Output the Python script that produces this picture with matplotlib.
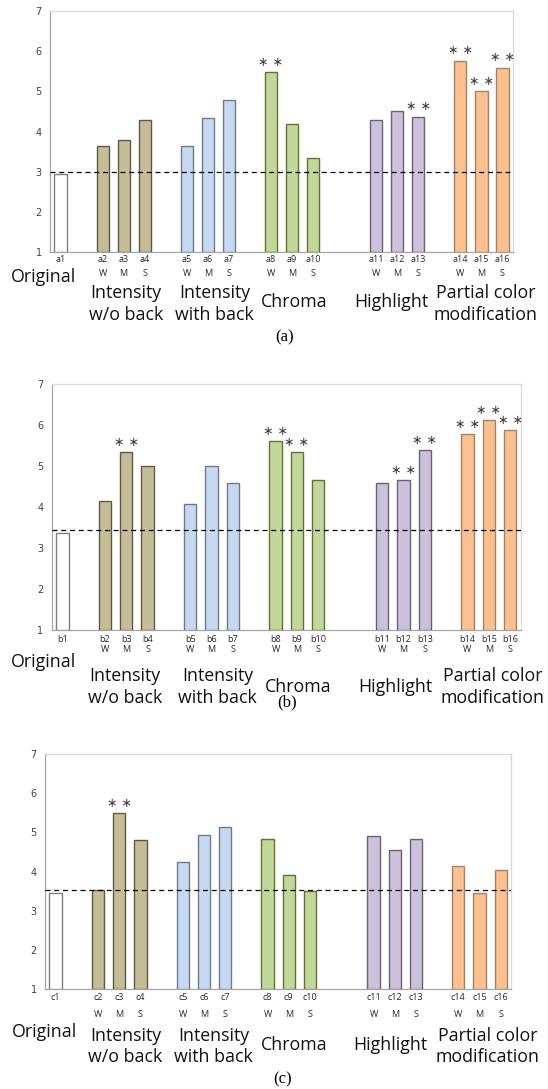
import matplotlib
matplotlib.use("Agg")
import matplotlib.pyplot as plt
from matplotlib.transforms import blended_transform_factory

# ---------------- data ----------------
positions = [0, 2, 3, 4, 6, 7, 8, 10, 11, 12, 15, 16, 17, 19, 20, 21]
strengths = ["", "W", "M", "S", "W", "M", "S", "W", "M", "S", "W", "M", "S", "W", "M", "S"]
groups = ["Original", "Intensity\nw/o back", "Intensity\nwith back", "Chroma", "Highlight",
          "Partial color\nmodification"]
group_of_bar = [0, 1, 1, 1, 2, 2, 2, 3, 3, 3, 4, 4, 4, 5, 5, 5]

values_a = [2.94, 3.64, 3.78, 4.28, 3.65, 4.34, 4.78, 5.48, 4.18, 3.34, 4.28, 4.51, 4.37, 5.76, 5.00, 5.59]
values_b = [3.36, 4.14, 5.33, 5.00, 4.07, 5.00, 4.59, 5.61, 5.33, 4.65, 4.58, 4.65, 5.39, 5.77, 6.11, 5.87]
values_c = [3.46, 3.53, 5.49, 4.80, 4.25, 4.93, 5.13, 4.82, 3.91, 3.50, 4.91, 4.56, 4.82, 4.15, 3.45, 4.05]

sig_a = [8, 13, 14, 15, 16]
sig_b = [3, 8, 9, 12, 13, 14, 15, 16]
sig_c = [3]

ref_a = 2.98
ref_b = 3.44
ref_c = 3.53

yticks = [1, 2, 3, 4, 5, 6, 7]

# ---------------- style ----------------
face = ["#FFFFFF", "#C4BD97", "#C6D9F1", "#C3D69B", "#CCC1DA", "#FAC090"]
edge = ["#7F7F7F", "#5E5A45", "#6D7B8D", "#5F7530", "#6B6177", "#A08466"]

W, H = 548, 1089
fig = plt.figure(figsize=(W / 100, H / 100), dpi=100)

label_font = ["Open Sans", "DejaVu Sans"]

panels = [
    dict(prefix="a", values=values_a, sig=sig_a, ref=ref_a, tag="(a)",
         box=(50, 513, 11, 252),
         off=dict(bar=8, wms=22, orig=25, two=52, one=50, tag=85, tagx=285),
         gx=[-0.8, 3.1, 7.33, 11.1, 15.7, 20.2]),
    dict(prefix="b", values=values_b, sig=sig_b, ref=ref_b, tag="(b)",
         box=(51.7, 520.7, 384, 630),
         off=dict(bar=9, wms=20, orig=32, two=57, one=57, tag=72, tagx=287),
         gx=[-0.87, 2.94, 7.28, 11.05, 15.6, 20.2]),
    dict(prefix="c", values=values_c, sig=sig_c, ref=ref_c, tag="(c)",
         box=(45, 511.3, 754, 989.3),
         off=dict(bar=8, wms=25, orig=43, two=57, one=56, tag=90, tagx=283),
         gx=[-0.52, 3.3, 7.46, 11.26, 15.8, 20.4]),
]

for p in panels:
    x0, x1, ytop, ybot = p["box"]
    ax = fig.add_axes([x0 / W, 1 - ybot / H, (x1 - x0) / W, (ybot - ytop) / H])
    vals = p["values"]
    fcs = [face[g] for g in group_of_bar]
    ecs = [edge[g] for g in group_of_bar]
    ax.bar(positions, [v - 1 for v in vals], bottom=1, width=0.58,
           color=fcs, edgecolor=ecs, linewidth=1.0, zorder=3)
    ax.axhline(p["ref"], color="black", linestyle=(0, (4, 3)), linewidth=0.9, zorder=4)
    ax.set_xlim(-0.5, 21.5)
    ax.set_ylim(1, 7)
    ax.set_yticks(yticks)
    ax.set_xticks([])
    ax.tick_params(axis="y", length=0, labelsize=7, labelcolor="#404040", pad=6)
    for s in ["top", "right"]:
        ax.spines[s].set_color("#D9D9D9")
    for s in ["left", "bottom"]:
        ax.spines[s].set_color("#A6A6A6")
    for sp in ax.spines.values():
        sp.set_linewidth(0.9)

    for i in p["sig"]:
        k = i - 1
        ax.annotate("∗ ∗", (positions[k], vals[k]), xytext=(0, 2.5), textcoords="offset points",
                    ha="center", va="bottom", fontsize=9, color="#404040",
                    family=["DejaVu Sans"])

    tr = blended_transform_factory(ax.transData, fig.transFigure)
    off = p["off"]

    def fy(py):
        return 1 - py / H

    for k, xpos in enumerate(positions):
        ax.text(xpos, fy(ybot + off["bar"]), f"{p['prefix']}{k + 1}", transform=tr,
                ha="center", va="center", fontsize=6.5, color="#262626", family=label_font)
        if strengths[k]:
            ax.text(xpos, fy(ybot + off["wms"]), strengths[k], transform=tr,
                    ha="center", va="center", fontsize=6.5, color="#262626", family=label_font)

    for g, name in enumerate(groups):
        if g == 0:
            yy = ybot + off["orig"]
        elif "\n" in name:
            yy = ybot + off["two"]
        else:
            yy = ybot + off["one"]
        ax.text(p["gx"][g], fy(yy), name, transform=tr, ha="center", va="center",
                fontsize=12.8, color="#111111", family=label_font, linespacing=1.25)

    fig.text(off["tagx"] / W, fy(ybot + off["tag"]), p["tag"], ha="center", va="center",
             fontsize=12, family=["Liberation Serif", "DejaVu Serif"])

fig.savefig("out.png", dpi=100)
